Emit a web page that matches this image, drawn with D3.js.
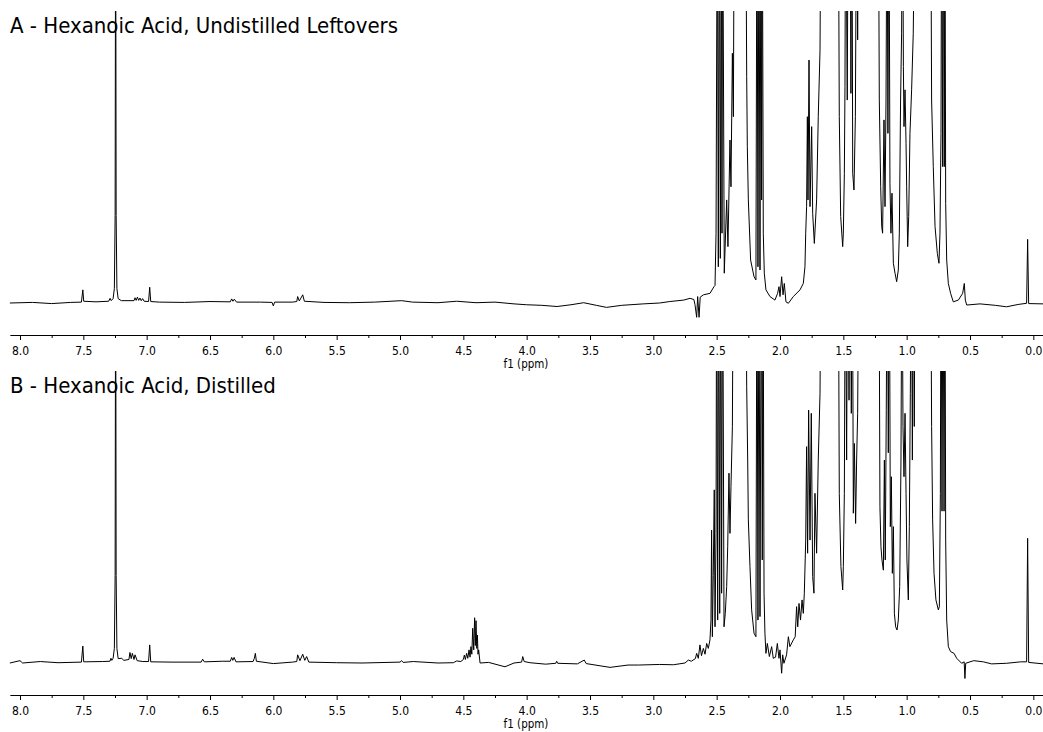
<!DOCTYPE html>
<html>
<head>
<meta charset="utf-8">
<script src="https://cdn.jsdelivr.net/npm/d3@7"></script>
<style>
  body { margin: 0; background: #fff; }
  svg { display: block; }
  text { font-family: "DejaVu Sans Condensed", "DejaVu Sans", sans-serif; font-stretch: condensed; fill: #000; }
</style>
</head>
<body>
<svg id="chart" width="1043" height="732"></svg>
<script>
// Panel titles
const titles = [
  "A - Hexanoic Acid, Undistilled Leftovers",
  "B - Hexanoic Acid, Distilled"
];

// Axis ticks (ppm) and title
const majorTicks = [8.0, 7.5, 7.0, 6.5, 6.0, 5.5, 5.0, 4.5, 4.0, 3.5, 3.0, 2.5, 2.0, 1.5, 1.0, 0.5, 0.0];
const minorTicks = [7.75, 7.25, 6.75, 6.25, 5.75, 5.25, 4.75, 4.25, 3.75, 3.25, 2.75, 2.25, 1.75, 1.25, 0.75, 0.25];
const axisTitle = "f1 (ppm)";
const ppmRange = [8.08, -0.08];

// 1H spectrum A (undistilled leftovers): [shift ppm, intensity]; 100 = top of the plot, larger values run off-scale
const spectrumA = [
  [8.08, 0.0], [7.90, 0.2], [7.75, -0.2], [7.60, 0.2], [7.515, 0.3], [7.504, 4.5], [7.497, 0.6],
  [7.40, 0.4], [7.30, 0.6], [7.289, 1.6], [7.280, 0.8], [7.265, 1.5], [7.255, 5.0], [7.249, 30],
  [7.245, 150], [7.241, 30], [7.235, 5.0], [7.225, 1.5], [7.20, 0.8], [7.10, 0.8], [7.092, 1.8],
  [7.083, 0.9], [7.073, 2.0], [7.063, 0.9], [7.053, 1.7], [7.043, 0.8], [7.032, 1.5], [7.02, 0.6],
  [6.985, 0.5], [6.976, 5.4], [6.968, 0.5], [6.90, 0.3], [6.70, 0.2], [6.50, 0.5], [6.34, 0.4],
  [6.329, 1.4], [6.319, 0.6], [6.308, 1.3], [6.29, 0.3], [6.10, 0.3], [6.01, 0.2], [6.0, -1.0],
  [5.99, 0.3], [5.85, 0.3], [5.815, 0.5], [5.808, 2.2], [5.795, 0.7], [5.768, 2.8], [5.755, 0.6],
  [5.60, 0.2], [5.40, 0.1], [5.20, 0.3], [4.987, 0.8], [4.90, 0.3], [4.70, 0.1], [4.553, 0.6],
  [4.40, 0.1], [4.25, 0.3], [4.10, -0.3], [4.00, -0.6], [3.88, -0.8], [3.76, -1.2], [3.65, -0.6],
  [3.55, 0.1], [3.45, -0.8], [3.37, -1.5], [3.25, -0.8], [3.08, -0.3], [2.95, 0.0], [2.87, 0.5],
  [2.76, 1.0], [2.71, 1.6], [2.68, 1.2], [2.671, -0.6], [2.658, -4.9], [2.650, 2.2], [2.639, -4.9],
  [2.630, 2.0], [2.605, 2.8], [2.553, 3.3], [2.521, 5.6], [2.513, 6.0], [2.505, 23.9], [2.495, 150],
  [2.487, 12.4], [2.479, 150], [2.471, 15.3], [2.463, 150], [2.458, 23.9], [2.453, 150], [2.440, 10.2],
  [2.421, 35.3], [2.411, 19.3], [2.395, 55.8], [2.387, 39.8], [2.376, 85.5], [2.368, 63.8], [2.361, 150],
  [2.271, 150], [2.263, 77.5], [2.258, 53.5], [2.250, 35.3], [2.232, 14.7], [2.205, 9.0], [2.190, 7.9],
  [2.182, 150], [2.174, 12.4], [2.166, 150], [2.158, 11.3], [2.150, 150], [2.145, 35.3], [2.140, 150],
  [2.132, 23.9], [2.124, 10.2], [2.111, 4.5], [2.079, 2.2], [2.040, 1.0], [2.019, 3.3], [2.008, 5.6],
  [2.000, 2.2], [1.987, 9.0], [1.976, 2.8], [1.966, 6.7], [1.953, 0.4], [1.934, -0.1], [1.895, 2.2],
  [1.842, 4.5], [1.816, 6.7], [1.803, 12.4], [1.797, 23.9], [1.790, 33.0], [1.784, 63.8], [1.779, 35.3],
  [1.771, 83.2], [1.763, 33.0], [1.750, 60.4], [1.742, 30.7], [1.729, 20.4], [1.711, 35.3], [1.698, 63.8],
  [1.684, 86.6], [1.676, 150], [1.540, 150], [1.532, 63.8], [1.521, 29.6], [1.505, 19.3], [1.500, 23.9],
  [1.492, 44.4], [1.487, 74.1], [1.482, 150], [1.469, 69.5], [1.461, 150], [1.448, 150], [1.440, 71.8],
  [1.432, 150], [1.426, 44.4], [1.416, 38.7], [1.405, 63.8], [1.395, 150], [1.387, 90.1], [1.379, 150],
  [1.224, 150], [1.216, 69.5], [1.205, 39.8], [1.197, 26.2], [1.190, 23.9], [1.179, 62.7], [1.171, 33.0],
  [1.163, 69.5], [1.155, 150], [1.148, 58.1], [1.140, 150], [1.132, 41.0], [1.124, 23.9], [1.116, 37.6],
  [1.105, 13.6], [1.092, 10.2], [1.079, 7.3], [1.066, 11.3], [1.058, 23.9], [1.048, 69.5], [1.040, 92.4],
  [1.032, 150], [1.026, 81.0], [1.021, 60.4], [1.013, 73.0], [1.005, 54.7], [1.000, 39.8], [0.992, 19.3],
  [0.984, 29.6], [0.974, 58.1], [0.961, 73.0], [0.948, 92.4], [0.934, 150], [0.811, 150], [0.803, 69.5],
  [0.790, 46.7], [0.776, 26.2], [0.758, 17.0], [0.745, 13.6], [0.737, 23.9], [0.729, 58.1], [0.724, 150],
  [0.716, 46.7], [0.711, 150], [0.703, 46.7], [0.698, 150], [0.692, 34.1], [0.684, 14.7], [0.671, 6.7],
  [0.653, 3.3], [0.632, 0.4], [0.592, 1.0], [0.558, 3.3], [0.545, 6.7], [0.537, 1.0], [0.526, -0.7],
  [0.421, -0.3], [0.30, -0.8], [0.211, -1.3], [0.12, -0.5], [0.053, -0.1], [0.045, 21.8], [0.037, -0.2],
  [-0.08, -0.3]
];

// 1H spectrum B (distilled)
const spectrumB = [
  [8.08, 0.0], [8.0, 0.8], [7.98, 0.0], [7.84, 0.5], [7.70, 0.1], [7.515, 0.3], [7.504, 5.8], [7.497, 0.4],
  [7.35, 0.5], [7.29, 0.6], [7.282, 1.6], [7.275, 0.9], [7.265, 1.6], [7.255, 5.0], [7.249, 30], [7.245, 150],
  [7.241, 30], [7.235, 5.0], [7.225, 1.5], [7.197, 1.6], [7.18, 0.9], [7.14, 1.2], [7.132, 3.6], [7.122, 1.5],
  [7.113, 3.3], [7.100, 1.2], [7.092, 2.8], [7.075, 0.8], [7.03, 0.5], [6.985, 0.5], [6.976, 6.2], [6.968, 0.4],
  [6.80, 0.3], [6.57, 0.3], [6.558, 1.3], [6.545, 0.4], [6.40, 0.6], [6.34, 0.6], [6.329, 1.9], [6.320, 0.9],
  [6.310, 1.9], [6.295, 0.4], [6.16, 0.5], [6.150, 1.6], [6.142, 3.3], [6.134, 0.6], [6.00, -0.2], [5.85, 0.3],
  [5.815, 0.5], [5.808, 2.8], [5.790, 0.8], [5.768, 3.0], [5.752, 0.9], [5.737, 2.2], [5.720, 0.3], [5.50, 0.1],
  [5.30, 0.0], [5.00, 0.3], [4.987, 0.8], [4.975, 0.2], [4.895, 0.5], [4.70, 0.0], [4.579, 0.1], [4.553, 0.7],
  [4.52, 0.5], [4.500, 1.2], [4.492, 2.7], [4.484, 1.2], [4.474, 3.3], [4.465, 1.6], [4.455, 4.5], [4.447, 2.0],
  [4.440, 5.6], [4.433, 3.0], [4.426, 11.9], [4.418, 4.5], [4.411, 15.5], [4.405, 6.0], [4.400, 14.5],
  [4.394, 5.0], [4.389, 9.6], [4.384, 3.0], [4.379, 4.5], [4.368, 0.0], [4.30, 0.2], [4.171, -1.3], [4.10, 0.0],
  [4.040, 0.3], [4.031, 2.2], [4.020, 0.5], [3.974, 0.1], [3.85, -0.4], [3.770, -0.1], [3.763, 0.6],
  [3.755, -0.1], [3.60, -0.3], [3.545, 1.0], [3.53, -0.2], [3.342, -1.5], [3.20, -0.7], [3.118, -0.7],
  [2.95, -0.5], [2.842, -0.6], [2.750, 0.0], [2.724, 1.0], [2.70, 0.6], [2.668, 1.5], [2.658, 3.3],
  [2.645, 1.6], [2.632, 6.2], [2.620, 2.5], [2.605, 5.0], [2.592, 3.0], [2.579, 6.7], [2.566, 5.0],
  [2.553, 7.9], [2.545, 14.7], [2.540, 45.5], [2.534, 9.0], [2.527, 30.0], [2.519, 59.3], [2.513, 12.4],
  [2.505, 44.4], [2.500, 150], [2.492, 14.7], [2.484, 150], [2.476, 17.0], [2.468, 150], [2.461, 23.9],
  [2.453, 150], [2.442, 12.4], [2.432, 17.0], [2.421, 26.2], [2.413, 39.8], [2.403, 65.0], [2.395, 44.4],
  [2.387, 60.4], [2.376, 80.9], [2.368, 150], [2.271, 150], [2.263, 94.6], [2.255, 69.5], [2.250, 49.0],
  [2.237, 33.0], [2.224, 18.2], [2.205, 10.2], [2.190, 9.0], [2.182, 150], [2.174, 14.7], [2.166, 150],
  [2.158, 15.9], [2.147, 150], [2.140, 35.3], [2.134, 150], [2.126, 23.9], [2.119, 10.2], [2.111, 3.3],
  [2.100, 6.7], [2.084, 2.2], [2.066, 5.6], [2.053, 1.6], [2.035, 2.0], [2.021, 6.7], [2.008, 1.6],
  [2.000, 4.5], [1.987, -3.5], [1.979, 2.8], [1.969, -0.1], [1.948, 2.8], [1.934, 9.0], [1.922, 5.6],
  [1.895, 7.9], [1.880, 9.0], [1.869, 19.3], [1.860, 12.4], [1.850, 20.4], [1.838, 14.7], [1.826, 21.6],
  [1.816, 17.0], [1.808, 23.9], [1.797, 42.1], [1.790, 74.1], [1.782, 37.6], [1.774, 86.6], [1.763, 42.1],
  [1.753, 85.5], [1.742, 29.6], [1.732, 23.9], [1.724, 58.1], [1.711, 37.6], [1.698, 69.5], [1.684, 92.4],
  [1.676, 150], [1.540, 150], [1.532, 58.1], [1.519, 33.0], [1.505, 25.0], [1.500, 33.0], [1.492, 58.1],
  [1.484, 150], [1.474, 69.5], [1.466, 150], [1.455, 90.0], [1.447, 150], [1.437, 85.5], [1.429, 150],
  [1.421, 51.3], [1.413, 75.2], [1.403, 47.8], [1.395, 69.5], [1.387, 85.5], [1.377, 150], [1.219, 150],
  [1.211, 53.5], [1.203, 39.8], [1.195, 35.3], [1.184, 31.8], [1.176, 69.5], [1.169, 35.3], [1.161, 86.6],
  [1.153, 150], [1.145, 72.0], [1.137, 150], [1.129, 46.7], [1.121, 63.8], [1.113, 30.7], [1.105, 46.7],
  [1.097, 17.0], [1.087, 12.4], [1.076, 11.3], [1.066, 14.7], [1.055, 26.2], [1.045, 69.5], [1.037, 150],
  [1.029, 81.0], [1.021, 63.8], [1.013, 85.5], [1.005, 58.1], [0.998, 35.3], [0.987, 21.6], [0.979, 46.7],
  [0.971, 92.4], [0.963, 150], [0.955, 69.5], [0.948, 150], [0.940, 81.0], [0.932, 150], [0.811, 150],
  [0.803, 81.0], [0.795, 49.0], [0.784, 30.7], [0.769, 21.6], [0.750, 18.2], [0.742, 19.3], [0.734, 58.1],
  [0.729, 150], [0.721, 52.0], [0.713, 150], [0.705, 52.0], [0.698, 150], [0.692, 42.1], [0.684, 14.7],
  [0.671, 5.6], [0.653, 3.9], [0.626, 3.3], [0.605, 1.6], [0.566, -0.1], [0.546, 0.4], [0.540, -5.3],
  [0.534, -0.1], [0.500, 0.4], [0.47, 0.8], [0.395, 0.4], [0.33, -0.3], [0.211, -0.1], [0.10, 0.4],
  [0.053, 0.4], [0.045, 42.7], [0.037, 0.2], [-0.08, -0.3]
];

const spectra = [spectrumA, spectrumB];

const svg = d3.select("#chart");
const W = 1043;
const panelHeight = 360;

const x = d3.scaleLinear().domain(ppmRange).range([9.87, 1043.47]);

spectra.forEach((data, i) => {
  const top = i * panelHeight;
  const g = svg.append("g").attr("transform", `translate(0,${top})`);

  const y = d3.scaleLinear().domain([0, 100]).range([303, 11]);

  // title
  g.append("text")
    .attr("x", 10).attr("y", 33)
    .style("font-size", "22px")
    .text(titles[i]);

  // clip so off-scale peaks are cut at the top of the plot
  const clipId = `clip-${i}`;
  g.append("clipPath").attr("id", clipId)
    .append("rect").attr("x", 0).attr("y", 11).attr("width", W).attr("height", 318);

  const line = d3.line().x(d => x(d[0])).y(d => y(d[1]));
  g.append("path")
    .datum(data)
    .attr("clip-path", `url(#${clipId})`)
    .attr("fill", "none")
    .attr("stroke", "#000")
    .attr("stroke-width", 1)
    .attr("stroke-linejoin", "miter")
    .attr("d", line);

  // ppm axis
  const axisG = g.append("g").attr("transform", "translate(0,335)");
  axisG.call(d3.axisBottom(x).tickValues(minorTicks).tickSize(3).tickFormat(""))
    .call(a => a.select(".domain").remove());
  axisG.append("g").call(
    d3.axisBottom(x).tickValues(majorTicks).tickSize(5).tickSizeOuter(0)
      .tickPadding(6).tickFormat(d3.format(".1f"))
  );
  axisG.selectAll("text").style("font-size", "12px").attr("fill", "#000");
  axisG.selectAll("line, path").attr("stroke", "#000");

  g.append("text")
    .attr("x", 526).attr("y", 368)
    .attr("text-anchor", "middle")
    .style("font-size", "11.5px")
    .text(axisTitle);
});
</script>
</body>
</html>
